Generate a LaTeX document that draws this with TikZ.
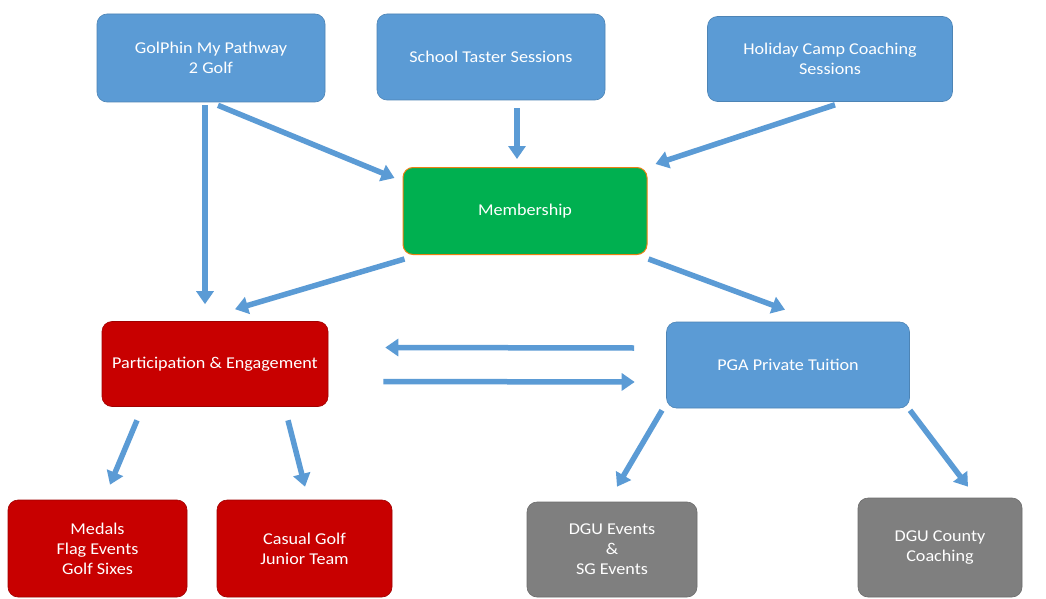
\documentclass[tikz,border=0pt]{standalone}
\usepackage{fontspec}
\setmainfont{Carlito}
\newfontfamily\wfont[FakeStretch=1.1]{Carlito}
\usetikzlibrary{calc,arrows.meta}
\definecolor{bblue}{HTML}{5B9BD5}
\definecolor{bgreen}{HTML}{00B050}
\definecolor{bred}{HTML}{C80000}
\definecolor{bgray}{HTML}{7F7F7F}
\definecolor{aro}{HTML}{5B9BD5}
\tikzset{
  box/.style={rounded corners=10pt, text=white, align=center, inner sep=0pt, font=\wfont\fontsize{16.5}{20}\selectfont},
  bluebox/.style={box, fill=bblue, draw=bblue!85!black, line width=0.6pt},
  greenbox/.style={box, fill=bgreen, draw=orange!70!brown, line width=1pt},
  redbox/.style={box, fill=bred, draw=bred!80!black, line width=0.6pt},
  graybox/.style={box, fill=bgray, draw=bgray!85!black, line width=0.6pt},
  arr/.style={draw=aro, line width=5.5pt, -{Triangle[width=17pt,length=13pt]}},
}
\begin{document}
\begin{tikzpicture}[x=1pt,y=-1pt]
\useasboundingbox[fill=white] (0,0) rectangle (1046,599);
\node[bluebox, minimum width=228pt, minimum height=88pt] (gol) at (211,58) {GolPhin My Pathway\\2 Golf};
\node[bluebox, minimum width=228pt, minimum height=86pt] (school) at (491,57) {School Taster Sessions};
\node[bluebox, minimum width=245pt, minimum height=85pt] (holiday) at (830,59) {Holiday Camp Coaching\\Sessions};
\node[greenbox, minimum width=244pt, minimum height=87pt] (member) at (525,211) {Membership};
\node[redbox, minimum width=226pt, minimum height=85pt] (part) at (215,364) {Participation \& Engagement};
\node[bluebox, minimum width=243pt, minimum height=86pt] (pga) at (788,365) {PGA Private Tuition};
\node[redbox, minimum width=179pt, minimum height=97pt] (medals) at (97.5,548.5) {Medals\\Flag Events\\Golf Sixes};
\node[redbox, minimum width=175pt, minimum height=97pt] (casual) at (304.5,548.5) {Casual Golf\\Junior Team};
\node[graybox, minimum width=170pt, minimum height=95pt] (dguev) at (612,549.5) {DGU Events\\\&\\SG Events};
\node[graybox, minimum width=164pt, minimum height=99pt] (dguco) at (940,547.5) {DGU County\\Coaching};

\draw[arr] ($(gol.south)+(-6,3)$) -- ($(part.north)+(-10,-17)$);
\draw[arr] ($(gol.south)+(7,3)$) -- ($(member.west)+(-8,-33)$);
\draw[arr] ($(school.south)+(26,8)$) -- ($(member.north)+(-8,-8)$);
\draw[arr] ($(holiday.south)+(5,3)$) -- ($(member.east)+(8,-47)$);
\draw[arr] ($(member.south west)+(2,4)$) -- ($(part.north)+(20,-12)$);
\draw[arr] ($(member.south east)+(1,4)$) -- ($(pga.north)+(-3,-12)$);
\draw[arr] ($(pga.west)+(-32,-17)$) -- ($(part.east)+(57,-16.5)$);
\draw[arr] ($(part.east)+(55,17.5)$) -- ($(pga.west)+(-31.5,17)$);
\draw[arr] ($(part.south)+(-78,13.5)$) -- ($(medals.north)+(12.5,-15)$);
\draw[arr] ($(part.south)+(73,13.5)$) -- ($(casual.north)+(0.5,-13)$);
\draw[arr] ($(pga.south)+(-126,2)$) -- ($(dguev.north)+(5,-15)$);
\draw[arr] ($(pga.south)+(122,2)$) -- ($(dguco.north)+(28,-11)$);
\end{tikzpicture}
\end{document}
